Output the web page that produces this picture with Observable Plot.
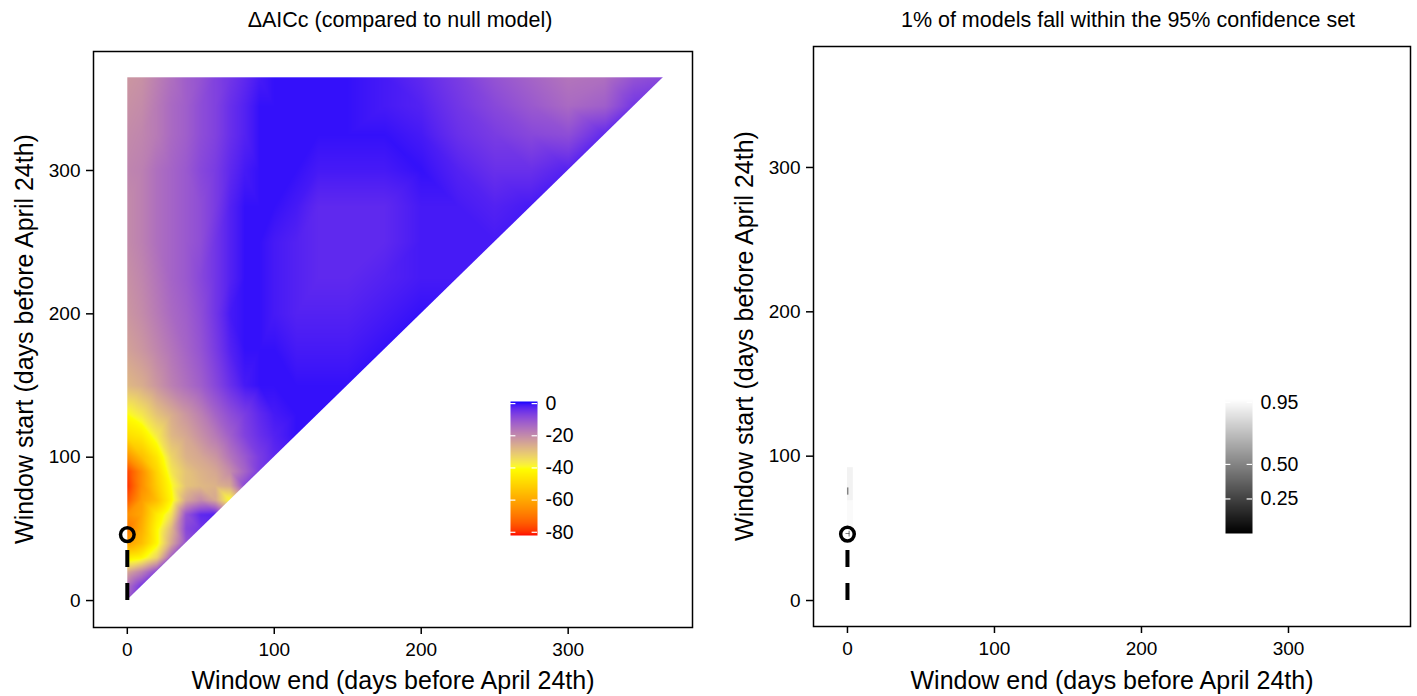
<!DOCTYPE html>
<html><head><meta charset="utf-8">
<script src="https://cdn.jsdelivr.net/npm/d3@7"></script>
<script src="https://cdn.jsdelivr.net/npm/@observablehq/plot@0.6"></script>
<style>
body{margin:0;background:#fff;}
#root{position:relative;width:1417px;height:696px;font-family:"Liberation Sans",Arial,sans-serif;color:#000;overflow:hidden;background:#fff;}
.abs{position:absolute;}
.title{font-size:21.5px;white-space:nowrap;transform:translate(-50%,-50%);}
.xlab{font-size:25px;white-space:nowrap;transform:translate(-50%,-50%);}
.ylab{font-size:25px;white-space:nowrap;transform:translate(-50%,-50%) rotate(-90deg);}
</style></head><body><div id="root"></div>
<script>
// ---- data ----
// sample window days (used for both window end and window start)
const windowDays = [0,10,20,30,40,50,60,70,80,90,100,115,130,150,175,200,225,250,275,300,325,345,365];
// ΔAICc: row i is windowStart = windowDays[i]; entries are windowEnd = windowDays[0..i]
const deltaAICcRows = [
  [-12],
  [-15,-5],
  [-25,-18,-8],
  [-45,-42,-33,-12],
  [-62,-55,-42,-25,-10],
  [-70,-58,-42,-28,-8,-5],
  [-65,-60,-45,-35,-10,-3,-2],
  [-75,-62,-55,-42,-25,-20,-25,-40],
  [-80,-65,-52,-40,-30,-28,-27,-25,-8],
  [-78,-65,-50,-36,-30,-27,-25,-20,-13,-6],
  [-65,-55,-46,-33,-27,-25,-22,-16,-11,-6,-3],
  [-48,-45,-37,-28,-25,-21,-17,-12,-7,-4,-2,0],
  [-40,-36,-30,-26,-22,-18,-13,-9,-6,-3,-1,0,0],
  [-28,-26,-22,-18,-15,-12,-8,-4,-1,0,0,0,0,0],
  [-24,-22,-19,-16,-13,-10,-6,-2,0,0,0,-1,-1,-1,0],
  [-22,-20,-17,-14,-12,-9,-5,-1,0,0,-1,-2,-2,-2,-1,0],
  [-21,-19,-16,-13,-11,-8,-5,-2,0,0,-1,-2,-3,-3,-2,-1,-1],
  [-20,-18,-15,-13,-11,-9,-5,-2,0,0,-1,-2,-3,-3,-3,-1,-1,-1],
  [-20,-18,-15,-13,-11,-9,-6,-2,0,0,0,-1,-3,-3,-3,-1,-1,-2,-1],
  [-19,-18,-15,-13,-11,-8,-6,-3,-1,0,0,0,-1,-1,-1,0,-2,-4,-4,-2],
  [-20,-19,-17,-14,-12,-9,-7,-4,-2,0,0,0,0,0,0,-1,-4,-6,-8,-9,-3],
  [-21,-20,-17,-14,-12,-9,-7,-4,-2,0,0,0,0,0,-1,-2,-5,-8,-11,-14,-12,-5],
  [-22,-21,-18,-15,-12,-10,-7,-5,-3,-1,0,0,0,0,-1,-3,-6,-10,-13,-16,-15,-10,-8]
];
const axisTicks = [0,100,200,300];
const deltaColorStops = ["red","yellow","blue"];
const deltaRange = [-82, 1.3];
const deltaLegendTicks = [0,-20,-40,-60,-80];
// best window (circle + dashed line)
const bestEnd = [0];
const bestStart = [46];
// models in 95% confidence set (blocks of windows) and their cumulative weight
const csEndFrom   = [0, 0, 0, 1];
const csEndTo     = [4, 4, 1, 2];
const csStartFrom = [50, 69, 73, 44];
const csStartTo   = [69, 92, 78, 48];
const csWeight    = [0.95, 0.92, 0.5, 0.6];
const weightRange = [0, 0.97];
const weightLegendTicks = [0.25, 0.50, 0.95];
const titles = ["\u0394AICc (compared to null model)", "1% of models fall within the 95% confidence set"];
const xTitle = "Window end (days before April 24th)";
const yTitle = "Window start (days before April 24th)";

// ---- build ----
const root = document.getElementById("root");
const font = '"Liberation Sans", Arial, sans-serif';
const baseStyle = {fontFamily: font, fontSize: "19px", color: "black", background: "transparent", overflow: "visible"};

const samples = [];
deltaAICcRows.forEach((row, i) => row.forEach((v, j) => samples.push({start: windowDays[i], end: windowDays[j], value: v})));
const best = bestEnd.map((e, i) => ({end: e, start: bestStart[i]}));
const blocks = csWeight.map((w, i) => ({endFrom: csEndFrom[i], endTo: csEndTo[i], startFrom: csStartFrom[i], startTo: csStartTo[i], weight: w}));
const [dMin, dMax] = d3.extent(windowDays);

const deltaColor = {type: "linear", domain: deltaRange, interpolate: d3.piecewise(d3.interpolateLab, deltaColorStops)};
const weightColor = {type: "linear", domain: weightRange, range: ["black", "white"]};

function place(el, left, top) {
  el.style.position = "absolute"; el.style.left = left + "px"; el.style.top = top + "px";
  root.appendChild(el);
}
function label(text, cls, x, y) {
  const d = document.createElement("div");
  d.className = "abs " + cls; d.textContent = text;
  d.style.left = x + "px"; d.style.top = y + "px";
  root.appendChild(d);
}
function commonMarks() {
  return [
    Plot.ruleX(best, {x: "end", y1: 0, y2: "start", stroke: "black", strokeWidth: 4, strokeDasharray: "17,16"}),
    Plot.dot(best, {x: "end", y: "start", r: 6.8, stroke: "black", strokeWidth: 3.5, fill: "none"}),
    Plot.axisX({ticks: axisTicks, tickSize: 7, tickPadding: 8, label: null, fontSize: 19, strokeWidth: 1.5}),
    Plot.axisY({ticks: axisTicks, tickSize: 7, tickPadding: 6, label: null, fontSize: 19, strokeWidth: 1.5}),
    Plot.frame({stroke: "black", strokeWidth: 1.5})
  ];
}

const xDomL = [-23, 384.6], yDomL = [-18.8, 383];
const left = Plot.plot({
  width: 708, height: 696, marginLeft: 93, marginRight: 16, marginTop: 51, marginBottom: 69,
  style: baseStyle,
  x: {domain: xDomL}, y: {domain: yDomL},
  color: deltaColor,
  marks: [
    Plot.raster(samples, {x: "end", y: "start", fill: "value", interpolate: "barycentric",
      x1: dMin, x2: dMax, y1: dMin, y2: dMax, pixelSize: 1}),
    // white mask below the diagonal (window start must be ≥ window end)
    Plot.areaY([dMin, xDomL[1]], {x: d => d, y1: d => d, y2: yDomL[0], fill: "white", clip: true}),
    ...commonMarks()
  ]
});
place(left, 0, 0);

const xDomR = [-23.1, 383], yDomR = [-18, 383.8];
const right = Plot.plot({
  width: 709, height: 696, marginLeft: 105, marginRight: 7, marginTop: 46, marginBottom: 70,
  style: baseStyle,
  x: {domain: xDomR}, y: {domain: yDomR},
  color: weightColor,
  marks: [
    Plot.rect(blocks, {x1: "endFrom", x2: "endTo", y1: "startFrom", y2: "startTo", fill: "weight"}),
    ...commonMarks()
  ]
});
place(right, 708, 0);

// colour bars
function colorbar(colorOpts, range, ticks, fmt) {
  return Plot.plot({
    width: 100, height: 160, marginLeft: 10, marginRight: 63, marginTop: 11, marginBottom: 15,
    style: baseStyle,
    x: {domain: [0, 1], axis: null}, y: {domain: range, axis: null},
    color: colorOpts,
    marks: [
      Plot.raster({fill: (x, y) => y, x1: 0, x2: 1, y1: range[0], y2: range[1], pixelSize: 1}),
      Plot.ruleY(ticks, {x1: 0, x2: 0.2, stroke: "white", strokeWidth: 1.2}),
      Plot.ruleY(ticks, {x1: 0.8, x2: 1, stroke: "white", strokeWidth: 1.2}),
      Plot.axisY({anchor: "right", ticks, tickSize: 0, tickPadding: 8, label: null, fontSize: 19.5, tickFormat: fmt})
    ]
  });
}
place(colorbar(deltaColor, deltaRange, deltaLegendTicks, d => String(d)), 500, 390);
place(colorbar(weightColor, weightRange, weightLegendTicks, d3.format(".2f")), 1215, 388);

// titles
label(titles[0], "title", 400, 20);
label(titles[1], "title", 1128, 20);
label(xTitle, "xlab", 393, 680);
label(xTitle, "xlab", 1112, 680);
label(yTitle, "ylab", 24, 339);
label(yTitle, "ylab", 744, 336);
</script></body></html>
